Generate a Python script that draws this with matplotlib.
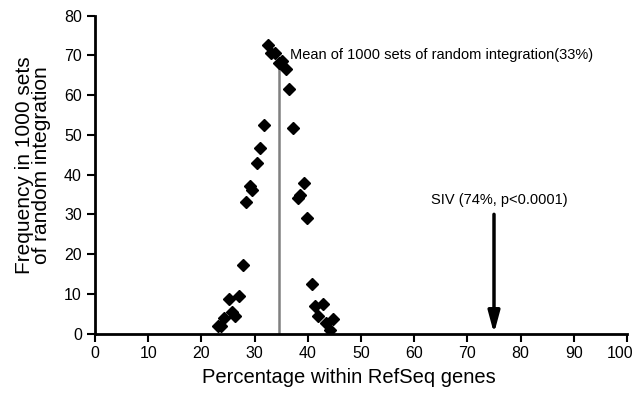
import matplotlib
matplotlib.use("Agg")
import matplotlib.pyplot as plt
import matplotlib.transforms as mtransforms

# percentage within RefSeq genes vs frequency (1000 random sets)
pct = [32.5, 33.1, 33.9, 34.6, 35.1, 35.9, 36.5, 31.8, 37.3, 31.1, 30.5,
       39.3, 29.2, 29.6, 38.1, 38.5, 28.4, 39.9, 27.8, 40.7, 27.0, 25.1,
       41.4, 42.8, 25.8, 26.3, 42.0, 24.3, 43.4, 44.8, 23.1, 23.7, 44.1]
freq = [72.7, 70.7, 70.6, 68.0, 68.6, 66.5, 61.5, 52.5, 51.7, 46.8, 42.9,
        38.0, 37.2, 36.1, 34.0, 34.9, 33.0, 29.2, 17.3, 12.5, 9.5, 8.6,
        6.8, 7.4, 5.5, 4.5, 4.4, 3.8, 2.7, 3.6, 2.0, 2.0, 1.0]
mean_x = 34.5
mean_top = 68
siv_x = 75
siv_top = 30
xticks = list(range(0, 101, 10))
yticks = list(range(0, 81, 10))

plt.rcParams['font.family'] = ['Liberation Sans', 'DejaVu Sans']

fig = plt.figure(figsize=(6.35, 3.96), dpi=100)
ax = fig.add_axes([95 / 635, 1 - 333.5 / 396, (627 - 95) / 635, (333.5 - 15.7) / 396])

ax.plot(pct, freq, 'D', color='black', markersize=6, zorder=3)
ax.plot([mean_x, mean_x], [0, mean_top], color='#808080', lw=1.8, zorder=2)
ax.text(36.7, 70.1, 'Mean of 1000 sets of random integration(33%)',
        fontsize=10.5, va='center', ha='left')

ax.annotate('', xy=(siv_x, 0), xytext=(siv_x, siv_top),
            arrowprops=dict(arrowstyle='-|>,head_length=1.3,head_width=0.35',
                            color='black', lw=2.5, shrinkA=0, shrinkB=0))
ax.text(76.0, 33.6, 'SIV (74%, p<0.0001)', fontsize=10.5, ha='center', va='center')

ax.set_xlim(0, 100)
ax.set_ylim(0, 80)
ax.set_xticks(xticks)
ax.set_yticks(yticks)
for s in ['top', 'right']:
    ax.spines[s].set_visible(False)
for s in ['left', 'bottom']:
    ax.spines[s].set_linewidth(2)
ax.tick_params(direction='out', length=6, width=1.5, labelsize=11.5)
ax.tick_params(axis='x', pad=3)

# nudge the "100" label left so it stays inside the figure
last = ax.xaxis.get_major_ticks()[-1].label1
last.set_transform(last.get_transform() +
                   mtransforms.ScaledTranslation(-7 / 100, 0, fig.dpi_scale_trans))

ax.set_xlabel('Percentage within RefSeq genes', fontsize=14.5)
ax.xaxis.set_label_coords(0.478, -0.11)
ax.set_ylabel('Frequency in 1000 sets\nof random integration', fontsize=15,
              linespacing=0.9)
ax.yaxis.set_label_coords(-0.082, 0.53)

fig.savefig('out.png', dpi=100)
